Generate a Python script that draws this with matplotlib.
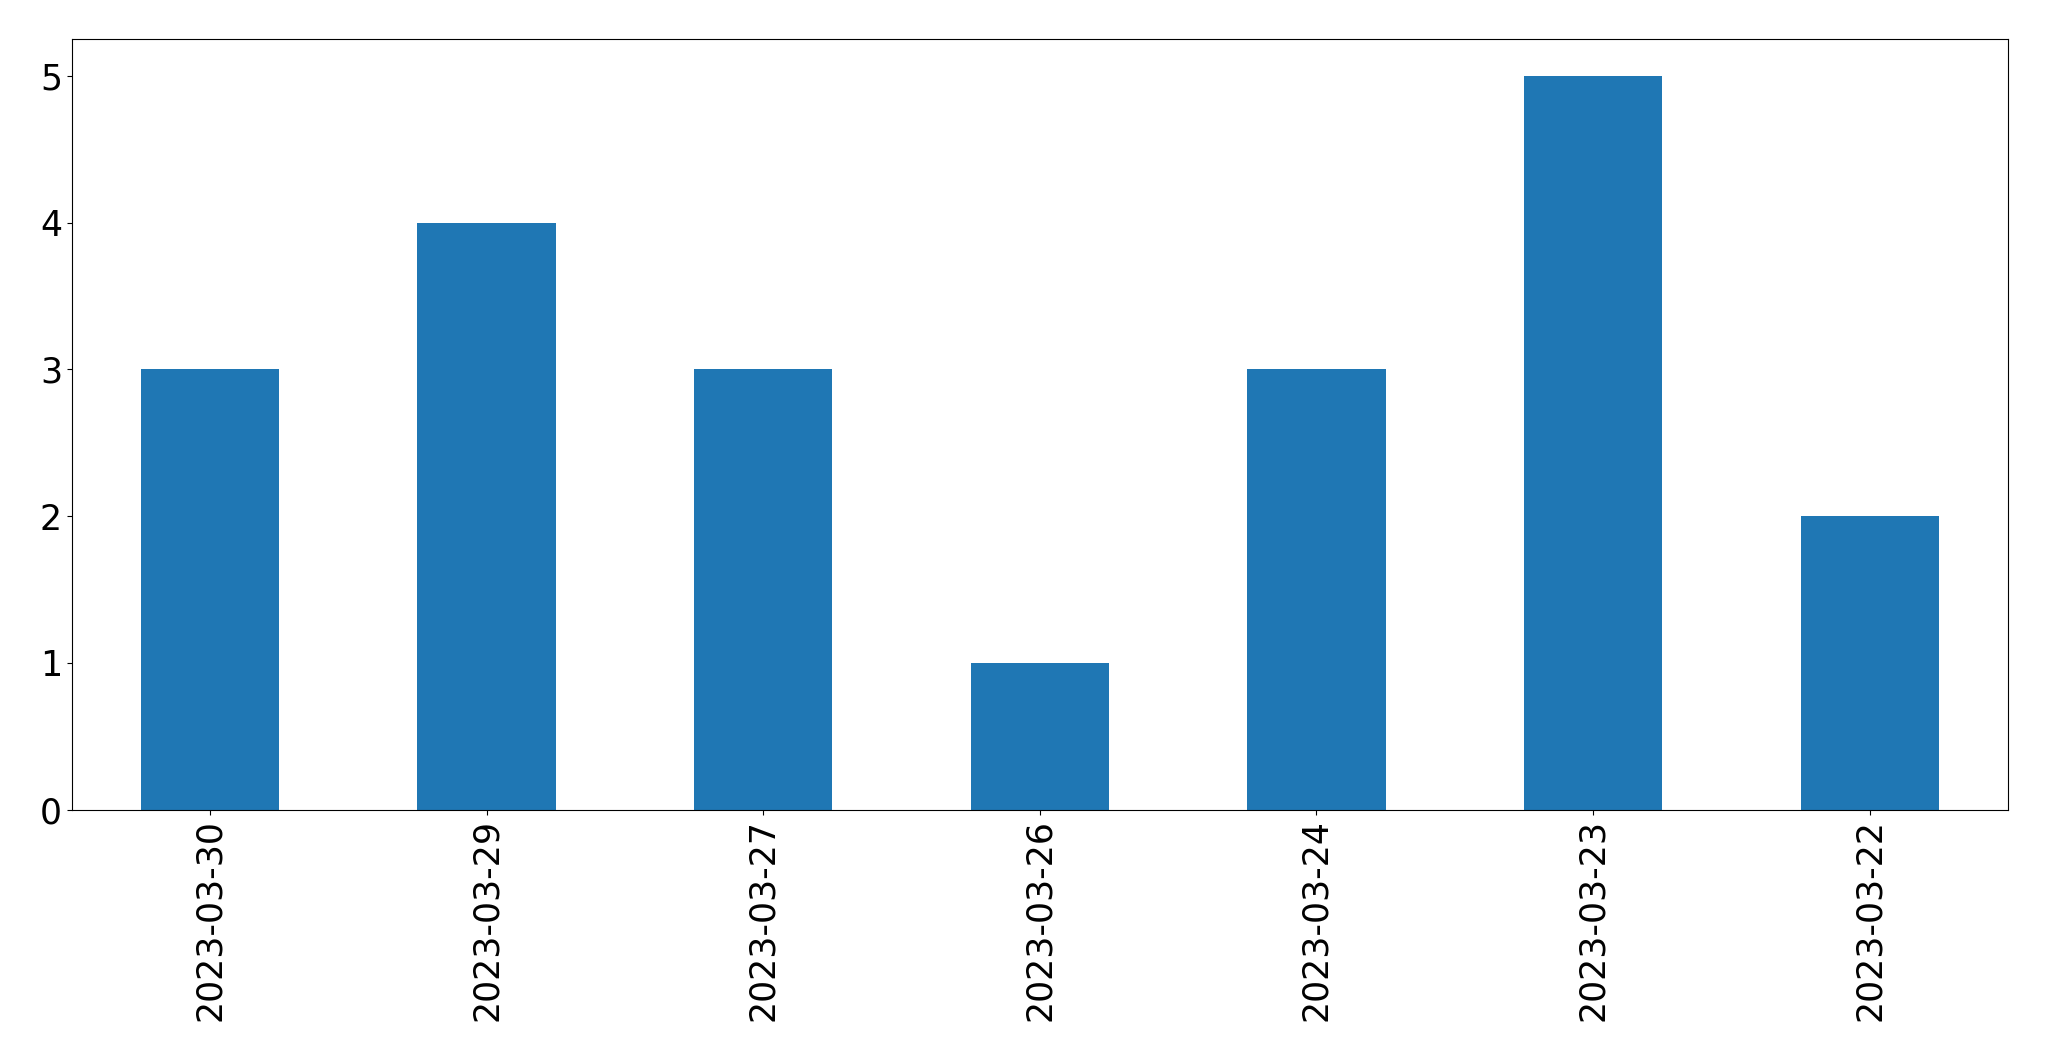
import matplotlib
matplotlib.use("Agg")
import matplotlib.pyplot as plt
import pandas as pd

# Bar counts per date, in the order they appear on the chart
dates = ["2023-03-30", "2023-03-29", "2023-03-27", "2023-03-26",
         "2023-03-24", "2023-03-23", "2023-03-22"]
counts = [3, 4, 3, 1, 3, 5, 2]

series = pd.Series(counts, index=dates)

fig, ax = plt.subplots(figsize=(20.49, 10.61), dpi=100)
series.plot(kind="bar", ax=ax, color="#1f77b4", width=0.5)
ax.tick_params(axis="both", labelsize=25)
ax.set_xlabel("")

plt.subplots_adjust(left=0.035, right=0.98, top=0.963, bottom=0.237)
fig.savefig("out.png", dpi=100)
plt.close(fig)
